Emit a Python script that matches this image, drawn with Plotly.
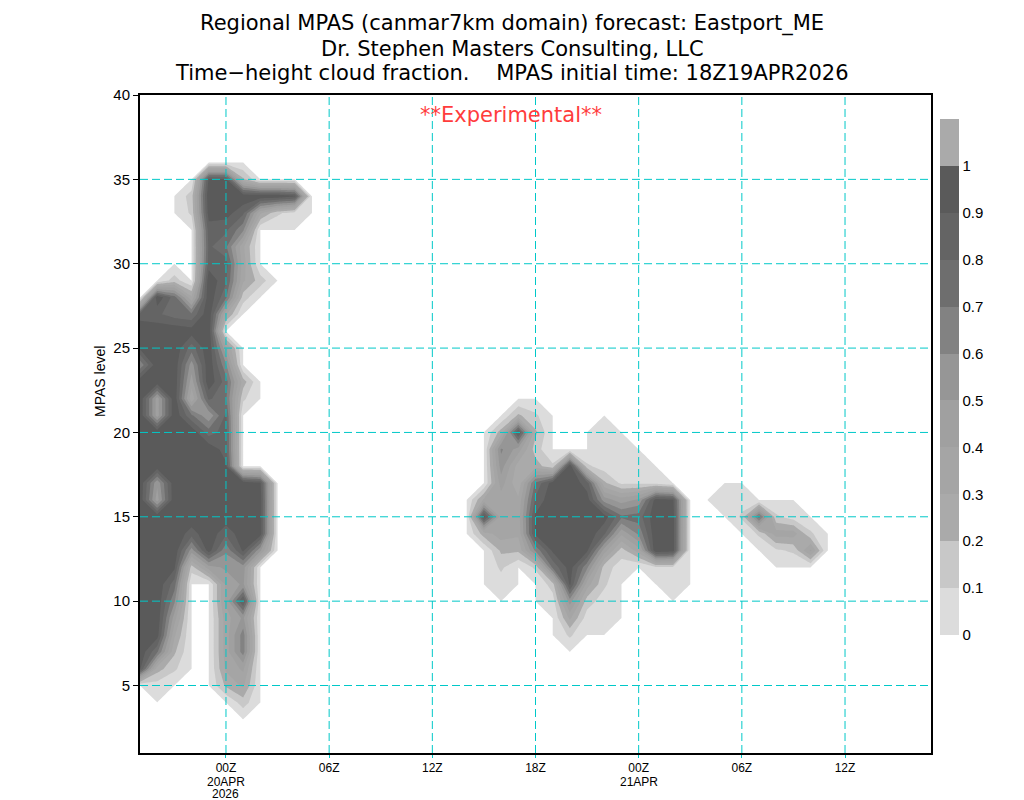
import plotly.graph_objects as go

# ---- data -----------------------------------------------------------------
# forecast hour relative to 00Z 20APR2026 (19Z 19APR ... 17Z 21APR)
hours = list(range(-5, 42))
# MPAS model level
levels = list(range(1, 41))

# cloud fraction; only non-zero runs are listed:
# level -> [(first hour of run, [values ...]), ...]
cloud_rows = {
    35: [(-1, [0.92, 0.92, 0.22])],
    34: [(-2, [0.15, 0.98, 0.98, 0.98, 0.98, 0.98, 0.92])],
    33: [(-2, [0.12, 0.95, 0.95, 0.82, 0.32, 0.12, 0.05])],
    32: [(-1, [0.85, 0.82, 0.62])],
    31: [(-1, [0.82, 0.72, 0.32])],
    30: [(-1, [0.85, 0.85, 0.35])],
    29: [(-3, [0.15, 0, 0.98, 0.82, 0.32, 0.15])],
    28: [(-4, [0.98, 0.75, 0.32, 0.98, 0.72, 0.15])],
    27: [(-5, [0.85, 0.82, 0.75, 0.72, 0.98, 0.32])],
    26: [(-5, [0.98, 0.98, 0.98, 0.95, 0.98])],
    25: [(-5, [0.92, 0.98, 0.98, 0.75, 0.98, 0.42])],
    24: [(-5, [0.62, 0.98, 0.98, 0.55, 0.98, 0.62])],
    23: [(-5, [0.98, 0.98, 0.98, 0.45, 0.98, 0.75, 0.25])],
    22: [(-5, [0.98, 0.45, 0.98, 0.32, 0.82, 0.72, 0.12])],
    21: [(-5, [0.98, 0.45, 0.98, 0.72, 0.52, 0.82]), (17, [0.22, 0.12])],
    20: [(-5, [0.98, 0.98, 0.98, 0.98, 0.75, 0.85]), (16, [0.25, 0.92, 0.22]), (22, [0.05])],
    19: [(-5, [0.98, 0.98, 0.98, 0.98, 0.98, 0.85]), (16, [0.62, 0.45, 0.15]),
         (22, [0.05, 0.05])],
    18: [(-5, [0.98, 0.98, 0.98, 0.98, 0.98, 0.92]),
         (16, [0.55, 0.25, 0.25, 0.12, 0.98, 0.12, 0.05, 0.05, 0.05])],
    17: [(-5, [0.98, 0.52, 0.98, 0.98, 0.98, 0.98, 0.98, 0.92]),
         (16, [0.45, 0.22, 0.72, 0.95, 0.98, 0.85, 0.22, 0.08, 0.08, 0.06])],
    16: [(-5, [0.98, 0.45, 0.98, 0.98, 0.98, 0.98, 0.98, 0.95]),
         (15, [0.32, 0.35, 0.32, 0.82, 0.98, 0.98, 0.95, 0.55, 0.45, 0.52, 0.95, 0.92]),
         (29, [0.05, 0.05])],
    15: [(-5, [0.98, 0.98, 0.98, 0.98, 0.98, 0.98, 0.98, 0.95]),
         (15, [0.95, 0.35, 0.35, 0.92, 0.98, 0.98, 0.98, 0.95, 0.72, 0.75, 0.98, 0.95]),
         (30, [0.12, 0.75, 0.12, 0.05])],
    14: [(-5, [0.98, 0.98, 0.98, 0.85, 0.98, 0.82, 0.98, 0.95]),
         (15, [0.25, 0.35, 0.32, 0.92, 0.98, 0.98, 0.98, 0.82, 0.42, 0.62, 0.98, 0.95]),
         (31, [0.12, 0.35, 0.35, 0.12])],
    13: [(-5, [0.98, 0.98, 0.98, 0.55, 0.95, 0.62, 0.92, 0.52]),
         (16, [0.22, 0.22, 0.62, 0.92, 0.98, 0.92, 0.45, 0.15, 0.35, 0.98, 0.95]),
         (32, [0.08, 0.12, 0.42])],
    12: [(-5, [0.98, 0.98, 0.92, 0.15, 0.45, 0.52, 0.55]),
         (16, [0.12, 0, 0.12, 0.72, 0.95, 0.62, 0.15, 0.05, 0, 0.08, 0.08])],
    11: [(-5, [0.98, 0.98, 0.75, 0, 0, 0.42, 0.52]),
         (16, [0.05, 0, 0, 0.15, 0.92, 0.35, 0.12, 0, 0, 0, 0.05])],
    10: [(-5, [0.98, 0.98, 0.62, 0, 0, 0.42, 0.92]), (19, [0.05, 0.55, 0.15, 0.05])],
    9: [(-5, [0.98, 0.98, 0.45, 0, 0, 0.35, 0.52]), (20, [0.32, 0.05, 0.05])],
    8: [(-5, [0.98, 0.95, 0.32, 0, 0, 0.35, 0.65]), (20, [0.12])],
    7: [(-5, [0.98, 0.72, 0.22, 0, 0, 0.35, 0.65])],
    6: [(-5, [0.92, 0.25, 0.12, 0, 0, 0.32, 0.42])],
    5: [(-5, [0, 0.05, 0, 0, 0, 0.22, 0.32])],
    4: [(1, [0.15])],
}

x_tick_hours = [0, 6, 12, 18, 24, 30, 36]
x_tick_text = ["00Z", "06Z", "12Z", "18Z", "00Z", "06Z", "12Z"]
# date lines written under the 00Z ticks: (hour, text, line number)
x_date_labels = [(0, "20APR", 1), (0, "2026", 2), (24, "21APR", 1)]
y_tick_levels = [5, 10, 15, 20, 25, 30, 35, 40]
y_grid_levels = [5, 10, 15, 20, 25, 30, 35]

cbar_values = [0, 0.1, 0.2, 0.3, 0.4, 0.5, 0.6, 0.7, 0.8, 0.9, 1.0]
cbar_text = ["0", "0.1", "0.2", "0.3", "0.4", "0.5", "0.6", "0.7", "0.8", "0.9", "1"]
# colour of each shading band: below 0, 0-0.1, ..., 0.9-1, above 1
band_colors = ["#ffffff", "#dcdcdc", "#c8c8c8", "#aaaaaa", "#a5a5a5", "#a0a0a0",
               "#969696", "#828282", "#6e6e6e", "#646464", "#5a5a5a", "#aaaaaa"]

title_lines = [
    "Regional MPAS (canmar7km domain) forecast: Eastport_ME",
    "Dr. Stephen Masters Consulting, LLC",
    "Time\u2212height cloud fraction.    MPAS initial time: 18Z19APR2026",
]

# ---- build grid -------------------------------------------------------------
z = [[0.0] * len(hours) for _ in levels]
for lev, runs in cloud_rows.items():
    for h0, vals in runs:
        for k, v in enumerate(vals):
            z[levels.index(lev)][hours.index(h0 + k)] = v

# colorscale sampled at band centres (domain 0..1 maps to z 0..1)
positions = [0.0] + [0.05 + 0.1 * i for i in range(10)] + [1.0]
colorscale = [[p, c] for p, c in zip(positions, band_colors)]

GRID = "#00c8c8"
FONT = "Liberation Sans, Arial, sans-serif"
TICKFONT = dict(family=FONT, size=15, color="black")
XTICKFONT = dict(family=FONT, size=12, color="black")

L, R, T, B = 140, 93, 95, 47
PW, PH = 1024 - L - R, 800 - T - B


def py(ypx):
    """page pixel row -> paper y"""
    return (800 - B - ypx) / PH


fig = go.Figure(go.Contour(
    x=hours, y=levels, z=z,
    autocontour=False,
    contours=dict(start=0, end=1.0, size=0.1, coloring="fill", showlines=False),
    line=dict(width=0, smoothing=0),
    colorscale=colorscale,
    zmin=0, zmax=1.1, zauto=False,
    hoverinfo="skip",
    colorbar=dict(
        x=(940 - L) / PW, xanchor="left", xpad=0,
        y=py(377), yanchor="middle", ypad=0,
        len=516, lenmode="pixels", thickness=19, thicknessmode="pixels",
        outlinewidth=0, tickvals=cbar_values, ticktext=cbar_text,
        ticks="", tickfont=TICKFONT,
    ),
))

shapes = []
for xv in x_tick_hours:
    shapes.append(dict(type="line", xref="x", yref="paper", x0=xv, x1=xv, y0=0, y1=1,
                       line=dict(color=GRID, width=1, dash="8px,4px"), layer="above"))
for yv in y_grid_levels:
    shapes.append(dict(type="line", xref="paper", yref="y", x0=0, x1=1, y0=yv, y1=yv,
                       line=dict(color=GRID, width=1, dash="8px,4px"), layer="above"))

annotations = []
for txt, ypx in zip(title_lines, [24, 48.5, 73]):
    annotations.append(dict(text=txt, xref="paper", yref="paper",
                            x=(512 - L) / PW, y=py(ypx),
                            xanchor="center", yanchor="middle", showarrow=False,
                            font=dict(family="DejaVu Sans", size=21, color="black")))
annotations.append(dict(text="**Experimental**", xref="paper", yref="paper",
                        x=(511 - L) / PW, y=py(115),
                        xanchor="center", yanchor="middle", showarrow=False,
                        font=dict(family="DejaVu Sans", size=21, color="#ff3c3c")))
annotations.append(dict(text="MPAS level", xref="paper", yref="paper",
                        x=(100 - L) / PW, y=py(382), textangle=-90,
                        xanchor="center", yanchor="middle", showarrow=False,
                        font=dict(family=FONT, size=14, color="black")))
for hx, txt, line_no in x_date_labels:
    annotations.append(dict(text=txt, xref="x", yref="paper", x=hx,
                            y=py(781.5 if line_no == 1 else 794),
                            xanchor="center", yanchor="middle", showarrow=False,
                            font=XTICKFONT))

fig.update_layout(
    width=1024, height=800,
    margin=dict(l=L, r=R, t=T, b=B, autoexpand=False),
    paper_bgcolor="white", plot_bgcolor="white",
    shapes=shapes, annotations=annotations,
    showlegend=False,
    xaxis=dict(range=[-5, 41], tickvals=x_tick_hours, ticktext=x_tick_text,
               showgrid=False, zeroline=False, ticks="outside", ticklen=3,
               tickcolor=GRID, tickwidth=1, showline=True, linewidth=2,
               linecolor="black", mirror=True, tickfont=XTICKFONT,
               layer="above traces", automargin=False),
    yaxis=dict(range=[1, 40], tickvals=y_tick_levels, showgrid=False, zeroline=False,
               ticks="outside", ticklen=5, tickcolor="black", tickwidth=1,
               showline=True, linewidth=2, linecolor="black", mirror=True,
               tickfont=TICKFONT, layer="above traces", automargin=False),
)

fig.write_html("out.html",
               config={"displayModeBar": False},
               post_script="document.body.style.margin='0px';"
                           "document.body.style.overflow='hidden';")
